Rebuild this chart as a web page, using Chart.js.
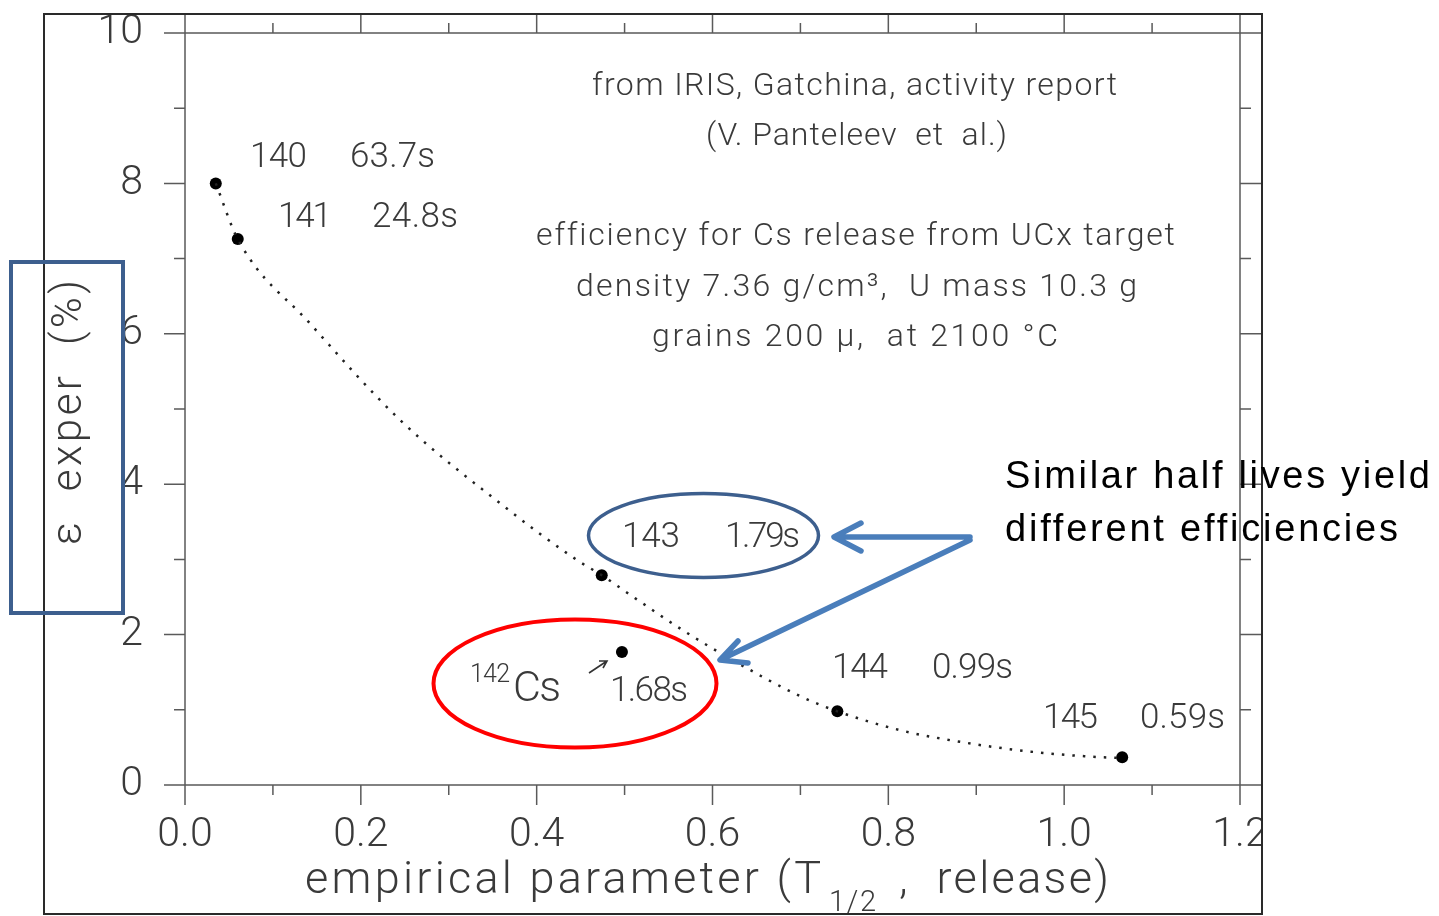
<!DOCTYPE html>
<html>
<head>
<meta charset="utf-8">
<script src="https://cdn.jsdelivr.net/npm/chart.js@4.4.1/dist/chart.umd.min.js"></script>
<style>
  html, body { margin: 0; padding: 0; background: #fff; }
  #wrap { width: 1439px; height: 916px; position: relative; }
</style>
</head>
<body>
<div id="wrap"><canvas id="c" width="1439" height="916"></canvas></div>
<script>
// measured points (empirical parameter, efficiency %)
const isotopes  = ["140", "141", "143", "142", "144", "145"];
const halfLives = ["63.7s", "24.8s", "1.79s", "1.68s", "0.99s", "0.59s"];
const paramX    = [0.035, 0.060, 0.474, 0.497, 0.742, 1.066];
const effY      = [8.00, 7.26, 2.79, 1.77, 0.98, 0.37];

// dotted trend line
const fitX = [0.035, 0.060, 0.142, 0.245, 0.358, 0.446, 0.474, 0.510, 0.566, 0.623, 0.700, 0.742, 0.813, 0.889, 0.965, 1.041, 1.066];
const fitY = [8.00, 7.26, 6.14, 4.85, 3.75, 2.99, 2.79, 2.50, 2.06, 1.66, 1.18, 0.98, 0.73, 0.56, 0.44, 0.37, 0.36];

const xMajor = [0, 0.2, 0.4, 0.6, 0.8, 1.0, 1.2];
const xMinor = [0.1, 0.3, 0.5, 0.7, 0.9, 1.1];
const yMajor = [0, 2, 4, 6, 8, 10];
const yMinor = [1, 3, 5, 7, 9];

const notes = [
    "from IRIS, Gatchina, activity report",
    "(V. Panteleev  et  al.)",
    "efficiency for Cs release from UCx target",
    "density 7.36 g/cm\u00B3,  U mass 10.3 g",
    "grains 200 \u03BC,  at 2100 \u00B0C",
];
const callout = ["Similar half lives yield", "different efficiencies"];

const INK = "#3a3a3a";
const AXIS = "#5a5a5a";
const FONT = "Roboto, 'DejaVu Sans', sans-serif";

function fitText(ctx, s, left, base, width, size, opts = {}) {
    ctx.font = `${opts.weight || 300} ${size}px ${opts.family || FONT}`;
    ctx.fillStyle = opts.color || INK;
    ctx.textAlign = "left";
    ctx.textBaseline = "alphabetic";
    ctx.letterSpacing = "0px";
    if (width) {
        const m = ctx.measureText(s).width;
        const ls = s.length > 1 ? (width - m) / (s.length - 1) : 0;
        ctx.letterSpacing = ls + "px";
    }
    ctx.fillText(s, left, base);
    ctx.letterSpacing = "0px";
}

const framePlugin = {
    id: "frame",
    beforeDraw(chart) {
        const ctx = chart.ctx;
        ctx.save();
        ctx.beginPath();
        ctx.rect(44, 14, 1262 - 44, 914 - 14);
        ctx.clip();
    },
    beforeDatasetsDraw(chart) {
        const { ctx, chartArea: a, scales: { x, y } } = chart;
        ctx.save();
        ctx.strokeStyle = AXIS;
        ctx.lineWidth = 1.5;
        ctx.beginPath();
        ctx.rect(a.left, a.top, a.right - a.left, a.bottom - a.top);
        const tickX = (vals, len) => vals.forEach(v => {
            const px = x.getPixelForValue(v);
            ctx.moveTo(px, a.bottom); ctx.lineTo(px, a.bottom + len);
            ctx.moveTo(px, a.top); ctx.lineTo(px, a.top - len);
        });
        const tickY = (vals, len) => vals.forEach(v => {
            const py = y.getPixelForValue(v);
            ctx.moveTo(a.left, py); ctx.lineTo(a.left - len, py);
            ctx.moveTo(a.right, py); ctx.lineTo(a.right + len, py);
        });
        tickX(xMajor, 20); tickX(xMinor, 10);
        tickY(yMajor, 21); tickY(yMinor, 11);
        ctx.stroke();
        ctx.restore();
    },
    afterDraw(chart) {
        const ctx = chart.ctx;
        ctx.restore(); // end clip

        // outer border of the plot picture
        ctx.save();
        ctx.strokeStyle = "#2a2a2a";
        ctx.lineWidth = 2;
        ctx.strokeRect(44, 14, 1262 - 44, 914 - 14);

        // axis titles
        fitText(ctx, "empirical parameter (T", 305, 893, 516, 45);
        fitText(ctx, "1/2", 829, 911, 47, 29);
        fitText(ctx, ",  release)", 899, 893, 210, 45);
        ctx.save();
        ctx.translate(81, 545);
        ctx.rotate(-Math.PI / 2);
        fitText(ctx, "\u03B5  exper  (%)", 0, 0, 265, 42);
        ctx.restore();

        // header notes
        const notePos = [[592, 95, 525], [706, 145, 301], [536, 245, 637], [576, 296, 561], [652, 346, 406]];
        notes.forEach((s, i) => fitText(ctx, s, notePos[i][0], notePos[i][1], notePos[i][2], 32));

        // point labels: [isoLeft, isoWidth, hlLeft, hlWidth, baseline]
        const lab = {
            "140": [250, 57, 350, 85, 167],
            "141": [278, 54, 372, 86, 227],
            "143": [622, 58, 725, 75, 547],
            "144": [832, 56, 932, 81, 678],
            "145": [1043, 55, 1140, 85, 728],
        };
        isotopes.forEach((iso, i) => {
            const p = lab[iso];
            if (!p) return;
            fitText(ctx, iso, p[0], p[4], p[1], 35);
            fitText(ctx, halfLives[i], p[2], p[4], p[3], 35);
        });
        const i142 = isotopes.indexOf("142");
        fitText(ctx, isotopes[i142], 470, 682, 40, 25);
        fitText(ctx, "Cs", 513, 701, 48, 43);
        fitText(ctx, halfLives[i142], 610, 701, 78, 35);
        // little pointer arrow
        ctx.strokeStyle = "#333";
        ctx.lineWidth = 1.6;
        ctx.beginPath();
        ctx.moveTo(589, 673); ctx.lineTo(607, 661);
        ctx.moveTo(599, 661); ctx.lineTo(607, 661); ctx.lineTo(603, 668);
        ctx.stroke();

        // ellipses
        ctx.lineWidth = 3.5;
        ctx.strokeStyle = "#3d5f8e";
        ctx.beginPath();
        ctx.ellipse(703.5, 535.5, 115, 42, 0, 0, Math.PI * 2);
        ctx.stroke();
        ctx.strokeStyle = "#ff0000";
        ctx.lineWidth = 4;
        ctx.beginPath();
        ctx.ellipse(575, 683.5, 141.5, 64, 0, 0, Math.PI * 2);
        ctx.stroke();

        // blue box around y title
        ctx.strokeStyle = "#3d5f8e";
        ctx.lineWidth = 4;
        ctx.strokeRect(11, 262, 112, 351);

        // callout arrows
        ctx.strokeStyle = "#4a7ebb";
        ctx.lineWidth = 5.5;
        ctx.lineCap = "round";
        ctx.lineJoin = "round";
        ctx.beginPath();
        ctx.moveTo(970, 537); ctx.lineTo(836, 537);
        ctx.moveTo(861, 523); ctx.lineTo(834, 537); ctx.lineTo(861, 551);
        ctx.moveTo(970, 540); ctx.lineTo(722, 659);
        ctx.moveTo(738, 641); ctx.lineTo(720, 660); ctx.lineTo(748, 663);
        ctx.stroke();

        fitText(ctx, callout[0], 1005, 488, 425, 38, { weight: 400, family: "'Liberation Sans', Arial, sans-serif", color: "#000" });
        fitText(ctx, callout[1], 1005, 541, 393, 38, { weight: 400, family: "'Liberation Sans', Arial, sans-serif", color: "#000" });
        ctx.restore();
    },
};

new Chart(document.getElementById("c"), {
    type: "scatter",
    data: {
        datasets: [
            {
                type: "line",
                label: "trend",
                data: fitX.map((v, i) => ({ x: v, y: fitY[i] })),
                borderColor: "#222",
                borderWidth: 2.5,
                borderDash: [2.5, 8],
                pointRadius: 0,
                fill: false,
                cubicInterpolationMode: "monotone",
            },
            {
                label: "measured",
                data: paramX.map((v, i) => ({ x: v, y: effY[i] })),
                backgroundColor: "#000",
                borderWidth: 0,
                pointRadius: 6,
            },
        ],
    },
    options: {
        responsive: false,
        animation: false,
        layout: { padding: { top: 33, right: 199, left: 0, bottom: 0 } },
        plugins: { legend: { display: false }, tooltip: { enabled: false } },
        scales: {
            x: {
                type: "linear", min: 0, max: 1.2,
                afterFit: s => { s.height = 131; s.paddingLeft = 0; s.paddingRight = 0; },
                grid: { display: false }, border: { display: false },
                ticks: {
                    stepSize: 0.2, padding: 18, color: INK,
                    font: { family: FONT, size: 41, weight: 300 },
                    callback: v => v.toFixed(1),
                },
            },
            y: {
                type: "linear", min: 0, max: 10,
                afterFit: s => { s.width = 185; s.paddingTop = 0; s.paddingBottom = 0; },
                grid: { display: false }, border: { display: false },
                ticks: {
                    stepSize: 2, padding: 34, color: INK,
                    font: { family: FONT, size: 41, weight: 300 },
                },
            },
        },
    },
    plugins: [framePlugin],
});
</script>
</body>
</html>
